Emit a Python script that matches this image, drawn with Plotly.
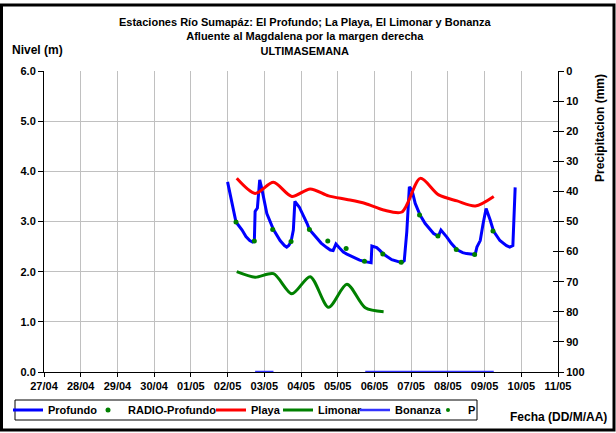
import plotly.graph_objects as go

# ---------------- data ----------------
profundo_time = [
    "2012-05-02 00:00", "2012-05-02 03:00", "2012-05-02 05:30", "2012-05-02 09:30", "2012-05-02 12:00",
    "2012-05-02 14:30", "2012-05-02 16:20", "2012-05-02 17:30", "2012-05-02 18:00", "2012-05-02 19:30",
    "2012-05-02 21:00", "2012-05-02 22:20", "2012-05-03 01:40", "2012-05-03 06:00", "2012-05-03 10:20",
    "2012-05-03 13:10", "2012-05-03 14:40", "2012-05-03 16:00", "2012-05-03 17:30", "2012-05-03 19:00",
    "2012-05-03 20:00", "2012-05-03 22:50", "2012-05-04 01:30", "2012-05-04 04:00", "2012-05-04 05:30",
    "2012-05-04 10:20", "2012-05-04 13:10", "2012-05-04 16:50", "2012-05-04 19:10", "2012-05-04 21:00",
    "2012-05-04 22:50", "2012-05-05 01:10", "2012-05-05 03:40", "2012-05-05 06:00", "2012-05-05 10:20",
    "2012-05-05 14:20", "2012-05-05 17:50", "2012-05-05 21:50", "2012-05-05 22:20", "2012-05-06 01:30",
    "2012-05-06 03:40", "2012-05-06 05:50", "2012-05-06 11:20", "2012-05-06 15:40", "2012-05-06 17:50",
    "2012-05-06 19:30", "2012-05-06 21:10", "2012-05-06 22:50", "2012-05-07 00:30", "2012-05-07 02:40",
    "2012-05-07 05:50", "2012-05-07 09:10", "2012-05-07 12:00", "2012-05-07 14:40", "2012-05-07 17:50",
    "2012-05-07 19:30", "2012-05-07 23:20", "2012-05-08 02:20", "2012-05-08 05:50", "2012-05-08 09:40",
    "2012-05-08 12:10", "2012-05-08 17:50", "2012-05-08 19:00", "2012-05-08 21:10", "2012-05-08 23:00",
    "2012-05-09 01:00", "2012-05-09 03:40", "2012-05-09 05:50", "2012-05-09 10:00", "2012-05-09 14:20",
    "2012-05-09 16:30", "2012-05-09 18:30", "2012-05-09 20:00",
]
profundo_nivel = [
    3.79, 3.39, 2.99, 2.83, 2.70,
    2.62, 2.59, 2.61, 3.20, 3.27,
    3.83, 3.66, 3.16, 2.84, 2.62,
    2.52, 2.49, 2.52, 2.60, 2.83,
    3.40, 3.29, 3.13, 2.96, 2.84,
    2.66, 2.57, 2.48, 2.43, 2.42,
    2.55, 2.47, 2.39, 2.35, 2.29,
    2.23, 2.20, 2.18, 2.51, 2.48,
    2.42, 2.35, 2.24, 2.19, 2.18,
    2.22, 2.80, 3.69, 3.63, 3.36,
    3.13, 2.96, 2.86, 2.76, 2.71,
    2.83, 2.69, 2.56, 2.44, 2.38,
    2.36, 2.34, 2.49, 2.62, 2.95,
    3.26, 3.03, 2.81, 2.62, 2.52,
    2.49, 2.52, 3.68,
]

radio_time = [
    "2012-05-02 05:30", "2012-05-02 17:30", "2012-05-03 05:30", "2012-05-03 17:30", "2012-05-04 05:30",
    "2012-05-04 17:30", "2012-05-05 05:30", "2012-05-05 17:30", "2012-05-06 05:30", "2012-05-06 17:30",
    "2012-05-07 05:30", "2012-05-07 17:30", "2012-05-08 05:30", "2012-05-08 17:30", "2012-05-09 05:30",
]
radio_profundo = [2.99, 2.61, 2.84, 2.60, 2.84, 2.61, 2.46, 2.21, 2.35, 2.19, 3.13, 2.71, 2.44, 2.34, 2.81]

est_time = [
    "2012-05-02 06:00", "2012-05-02 18:00", "2012-05-03 06:00", "2012-05-03 18:00", "2012-05-04 06:00",
    "2012-05-04 18:00", "2012-05-05 06:00", "2012-05-05 18:00", "2012-05-06 06:00", "2012-05-06 18:00",
    "2012-05-07 06:00", "2012-05-07 18:00", "2012-05-08 06:00", "2012-05-08 18:00", "2012-05-09 06:00",
]
playa = [3.86, 3.56, 3.78, 3.50, 3.65, 3.51, 3.44, 3.36, 3.23, 3.19, 3.86, 3.53, 3.41, 3.31, 3.50]
limonar = [2.00, 1.89, 1.96, 1.56, 1.90, 1.29, 1.75, 1.28, 1.20, None, None, None, None, None, None]
bonanza = [None, 0, 0, None, None, None, None, 0, 0, 0, 0, 0, 0, 0, 0]

p_time = ["2012-05-02 06:00"]
p_mm = [None]

x_range = ["2012-04-27", "2012-05-11"]
title_lines = [
    "Estaciones Río Sumapáz: El Profundo; La Playa, El Limonar y Bonanza",
    "Afluente al Magdalena por la margen derecha",
    "ULTIMASEMANA",
]

FONT = "Liberation Sans, Arial, sans-serif"
W, H = 616, 433
L, R, T, B = 44, 58, 71, 61
PW, PH = W - L - R, H - T - B


def px_x(px):
    return (px - L) / PW


def px_y(py):
    return (H - B - py) / PH


fig = go.Figure()
fig.add_trace(go.Scatter(x=profundo_time, y=profundo_nivel, name="Profundo", mode="lines",
                         line=dict(color="#0000ff", width=3), legend="legend"))
fig.add_trace(go.Scatter(x=radio_time, y=radio_profundo, name="RADIO-Profundo", mode="markers",
                         marker=dict(color="#008000", size=5), legend="legend2"))
fig.add_trace(go.Scatter(x=est_time, y=playa, name="Playa", mode="lines",
                         line=dict(color="#ff0000", width=3, shape="spline", smoothing=0.8),
                         legend="legend3"))
fig.add_trace(go.Scatter(x=est_time, y=limonar, name="Limonar", mode="lines",
                         line=dict(color="#008000", width=3, shape="spline", smoothing=0.8),
                         legend="legend4"))
fig.add_trace(go.Scatter(x=est_time, y=bonanza, name="Bonanza", mode="lines",
                         line=dict(color="#3333ff", width=2.5), legend="legend5"))
fig.add_trace(go.Scatter(x=p_time, y=p_mm, name="P", mode="markers", yaxis="y2",
                         marker=dict(color="#008000", size=4), legend="legend6"))

tickfont = dict(family=FONT, size=11, color="black", weight="bold")
legfont = dict(family=FONT, size=11, color="black", weight="bold")


def leg(text_px):
    return dict(xref="container", yref="container", x=(text_px - 40) / W, y=1 - 410 / H,
                xanchor="left", yanchor="middle", orientation="h", bgcolor="rgba(0,0,0,0)",
                borderwidth=0, font=legfont, itemwidth=30)


fig.update_layout(
    width=W, height=H,
    margin=dict(l=L, r=R, t=T, b=B, autoexpand=False),
    paper_bgcolor="white", plot_bgcolor="white",
    font=dict(family=FONT, size=11, color="black"),
    showlegend=True,
    xaxis=dict(type="date", range=x_range, dtick=86400000, tickformat="%d/%m",
               showgrid=True, gridcolor="#c0c0c0", gridwidth=1,
               showline=True, linecolor="black", linewidth=1,
               ticks="outside", ticklen=4, tickcolor="black", layer="below traces",
               tickfont=tickfont, zeroline=False, automargin=False),
    yaxis=dict(range=[0, 6], dtick=1, tickformat=".1f",
               showgrid=True, gridcolor="#c0c0c0", gridwidth=1,
               showline=True, linecolor="black", linewidth=1,
               ticks="outside", ticklen=5, tickcolor="black", layer="below traces",
               tickfont=tickfont, zeroline=False, automargin=False),
    yaxis2=dict(range=[100, 0], dtick=10, overlaying="y", side="right", anchor="x",
                showgrid=False, showline=True, linecolor="black", linewidth=1,
                ticks="outside", ticklen=5, tickcolor="black",
                tickfont=tickfont, zeroline=False, automargin=False),
    yaxis3=dict(range=[100, 0], dtick=10, overlaying="y", side="right", anchor="x",
                showgrid=False, showline=False, showticklabels=False,
                ticks="inside", ticklen=5, tickcolor="black",
                zeroline=False, automargin=False),
    legend=leg(48),
    legend2=leg(128),
    legend3=leg(251),
    legend4=leg(318),
    legend5=leg(395),
    legend6=leg(468),
)

fig.add_annotation(text="<br>".join("<b>%s</b>" % t for t in title_lines),
                   xref="paper", yref="paper", x=px_x(305), y=px_y(36), xanchor="center",
                   yanchor="middle", showarrow=False,
                   font=dict(family=FONT, size=11, color="black"))
fig.add_annotation(text="<b>Nivel (m)</b>", xref="paper", yref="paper", x=px_x(10), y=px_y(50),
                   xanchor="left", yanchor="middle", showarrow=False,
                   font=dict(family=FONT, size=12, color="black"))
fig.add_annotation(text="<b>Precipitacion (mm)</b>", xref="paper", yref="paper", x=px_x(600),
                   y=px_y(128), xanchor="center", yanchor="middle", textangle=-90, showarrow=False,
                   font=dict(family=FONT, size=12, color="black"))
fig.add_annotation(text="<b>Fecha (DD/M/AA)</b>", xref="paper", yref="paper", x=px_x(558),
                   y=px_y(417), xanchor="center", yanchor="middle", showarrow=False,
                   font=dict(family=FONT, size=12, color="black"))

# legend box
fig.add_shape(type="rect", xref="paper", yref="paper", x0=px_x(15), x1=px_x(477),
              y0=px_y(420), y1=px_y(400), line=dict(color="black", width=1),
              fillcolor="rgba(0,0,0,0)", layer="above")
# outer frame
fig.add_shape(type="rect", xref="paper", yref="paper", x0=px_x(1.5), x1=px_x(614),
              y0=px_y(430), y1=px_y(5), line=dict(color="black", width=3),
              fillcolor="rgba(0,0,0,0)", layer="above")

# invisible anchor trace for the tick-crossing axis
fig.add_trace(go.Scatter(x=p_time, y=p_mm, yaxis="y3", showlegend=False, hoverinfo="skip"))

fig.write_html("out.html", config={"displayModeBar": False},
               post_script="document.body.style.margin='0px';document.body.style.overflow='hidden';")
